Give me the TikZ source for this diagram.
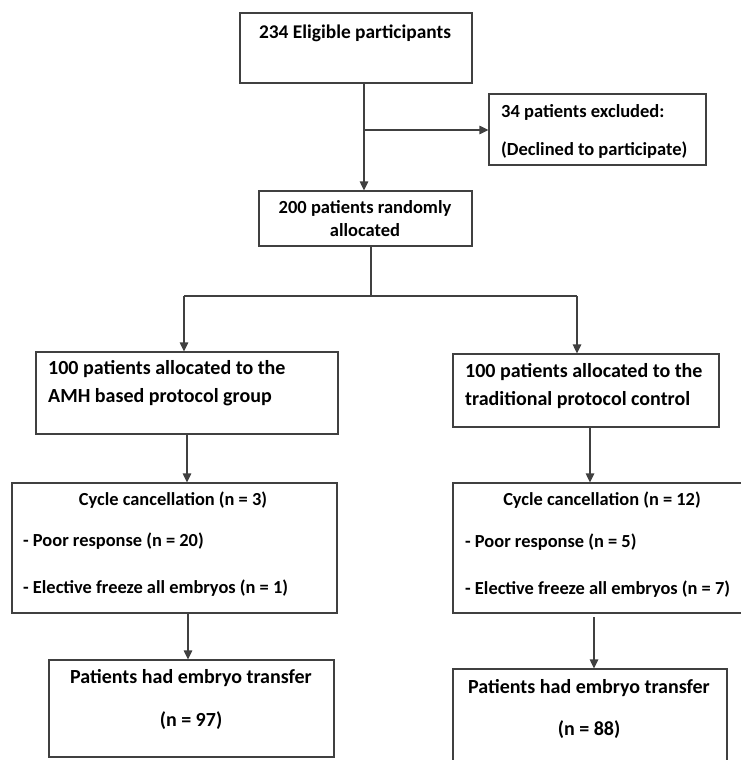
\documentclass[tikz,border=0pt]{standalone}
\usepackage{fontspec}
\setmainfont{Carlito}
\usetikzlibrary{arrows.meta}
\tikzset{
  box/.style={draw=black!75, line width=1.2pt, rectangle, inner sep=0pt},
  arr/.style={draw=black!75, line width=1.2pt, -{Triangle[length=9pt,width=8.5pt]}},
  ln/.style={draw=black!75, line width=1.2pt},
  big/.style={inner sep=0pt, font=\fontsize{20}{24}\selectfont\bfseries},
  top/.style={inner sep=0pt, font=\fontsize{19.4}{24}\selectfont\bfseries},
  sml/.style={inner sep=0pt, font=\fontsize{18.5}{22}\selectfont\bfseries},
  mid/.style={inner sep=0pt, font=\fontsize{18.4}{22}\selectfont\bfseries},
}
\begin{document}
\begin{tikzpicture}[x=1pt,y=-1pt]
\clip (0,0) rectangle (741,760);
\fill[white] (0,0) rectangle (741,760);
% boxes
\node[box, minimum width=232pt, minimum height=70pt] (b1) at (356,48) {};
\node[box, minimum width=217pt, minimum height=71pt] (excl) at (597.5,129.5) {};
\node[box, minimum width=213pt, minimum height=55pt] (rand) at (365.5,218.5) {};
\node[box, minimum width=302pt, minimum height=82pt] (amh) at (187,393) {};
\node[box, minimum width=266pt, minimum height=73pt] (trad) at (586,390.5) {};
\node[box, minimum width=325pt, minimum height=130pt] (cycl) at (174.5,548) {};
\node[box, minimum width=317pt, minimum height=130pt] (cycr) at (611.5,548) {};
\node[box, minimum width=285pt, minimum height=97pt] (trl) at (191.5,708.5) {};
\node[box, minimum width=274pt, minimum height=106pt] (trr) at (590,722) {};
% texts
\node[top] (t1) at (355,33) {234 Eligible participants};
\node[sml, anchor=west] (t2) at (501,112) {34 patients excluded:};
\node[sml, anchor=west] (t3) at (501,150) {(Declined to participate)};
\node[sml] (t4) at (365,208) {200 patients randomly};
\node[sml] (t5) at (365,230) {allocated};
\node[big, anchor=west] (t6) at (48,369) {100 patients allocated to the};
\node[big, anchor=west] (t7) at (48,397) {AMH based protocol group};
\node[big, anchor=west] (t8) at (465,372) {100 patients allocated to the};
\node[big, anchor=west] (t9) at (465,400) {traditional protocol control};
\node[mid] (t10) at (173,500) {Cycle cancellation (n = 3)};
\node[mid, anchor=west] (t11) at (23,541) {- Poor response (n = 20)};
\node[mid, anchor=west] (t12) at (23,588) {- Elective freeze all embryos (n = 1)};
\node[mid] (t13) at (602,500) {Cycle cancellation (n = 12)};
\node[mid, anchor=west] (t14) at (465,542) {- Poor response (n = 5)};
\node[mid, anchor=west] (t15) at (465,589) {- Elective freeze all embryos (n = 7)};
\node[big] (t16) at (191,678) {Patients had embryo transfer};
\node[big] (t17) at (191,721) {(n = 97)};
\node[big] (t18) at (589,688) {Patients had embryo transfer};
\node[big] (t19) at (589,730) {(n = 88)};
% connectors
\coordinate (j1) at (364,130);
\draw[arr] (b1.south -| j1) -- (rand.north -| j1);
\draw[arr] (j1) -- (excl.west |- j1);
\coordinate (j2) at (371,296);
\coordinate (sl) at (184,296);
\coordinate (sr) at (577,296);
\draw[ln] (rand.south -| j2) -- (j2);
\draw[ln] (sl) -- (sr);
\draw[arr] (sl) -- (amh.north -| sl);
\draw[arr] (sr) -- (trad.north -| sr);
\coordinate (c1) at (187,0);
\draw[arr] (amh.south -| c1) -- (cycl.north -| c1);
\coordinate (c2) at (188,0);
\draw[arr] (cycl.south -| c2) -- (trl.north -| c2);
\coordinate (c3) at (590,0);
\draw[arr] (trad.south -| c3) -- (cycr.north -| c3);
\coordinate (c4) at (594,617);
\draw[arr] (c4) -- (trr.north -| c4);
\end{tikzpicture}
\end{document}
